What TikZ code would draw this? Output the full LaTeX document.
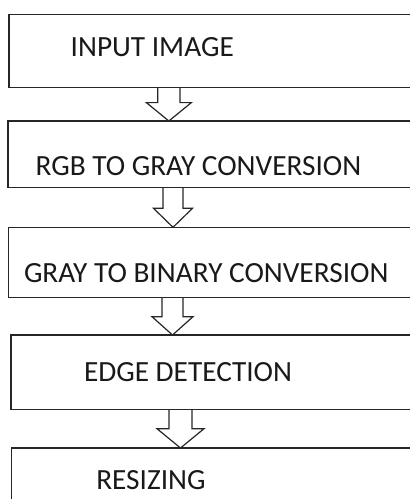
\documentclass[tikz,border=0pt]{standalone}
\usepackage{fontspec}
\setmainfont{Carlito}
\usetikzlibrary{calc}
\tikzset{
  flowbox/.style={draw=black!85, line width=1.3pt, rectangle, inner sep=0pt, outer sep=0pt},
  flowtext/.style={anchor=west, inner sep=0pt, outer sep=0pt, text=black!90, font=\fontsize{29.3pt}{35pt}\selectfont},
  flowline/.style={draw=black!85, line width=1.2pt, line join=miter}
}
\newcommand\blockarrow[6]{%
  \draw[flowline] let \p1=(#1.south), \p2=(#2.north) in
    (#3pt-#4pt,\y1) -- (#3pt-#4pt,\y2+#6pt) -- (#3pt-#5pt,\y2+#6pt) -- (#3pt,\y2)
    -- (#3pt+#5pt,\y2+#6pt) -- (#3pt+#4pt,\y2+#6pt) -- (#3pt+#4pt,\y1);}
\begin{document}
\begin{tikzpicture}[x=1pt,y=-1pt]
\useasboundingbox (0,0) rectangle (410,499);
\clip (0,0) rectangle (410,499);
\node[flowbox, minimum width=451pt, minimum height=72.6pt] (b1) at (234.5,51) {};
\node[flowbox, minimum width=452pt, minimum height=66.3pt] (b2) at (234,154.15) {};
\node[flowbox, minimum width=451.7pt, minimum height=70pt] (b3) at (234.15,262.3) {};
\node[flowbox, minimum width=449pt, minimum height=74.3pt] (b4) at (235.5,372.15) {};
\node[flowbox, minimum width=448.5pt, minimum height=72pt] (b5) at (235.75,484) {};
\node[flowtext] (t1) at (70.7,47.2) {INPUT IMAGE};
\node[flowtext] (t2) at (35.7,166) {RGB TO GRAY CONVERSION};
\node[flowtext] (t3) at (24,273) {GRAY TO BINARY CONVERSION};
\node[flowtext] (t4) at (84,372) {EDGE DETECTION};
\node[flowtext] (t5) at (96.3,480) {RESIZING};
\blockarrow{b1}{b2}{168.85}{11.2}{22.5}{18.4}
\blockarrow{b2}{b3}{173}{10}{19.5}{19}
\blockarrow{b3}{b4}{172.5}{10.5}{20.5}{18.3}
\blockarrow{b4}{b5}{180.5}{11.5}{23.5}{19.3}
\end{tikzpicture}
\end{document}
